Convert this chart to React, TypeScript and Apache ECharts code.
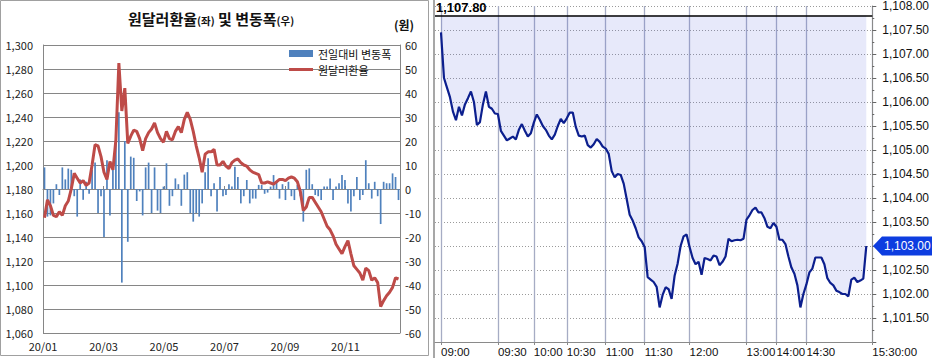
import React, { useEffect, useRef } from 'react';
import * as echarts from 'echarts';

// ---------- Left chart data (2020, every ~3 calendar days) ----------
const monthLabels = ['20/01', '20/03', '20/05', '20/07', '20/09', '20/11'];
const usdKrw = [
  1156, 1171, 1166, 1158, 1157, 1161, 1158, 1166, 1170, 1180,
  1193, 1189, 1185, 1187, 1183, 1185, 1200, 1217, 1216, 1207,
  1194, 1188, 1203, 1196, 1221, 1285, 1245, 1264, 1218, 1224,
  1229, 1228, 1222, 1212, 1222, 1227, 1230, 1235, 1227, 1222,
  1219, 1228, 1222, 1221, 1228, 1232, 1227, 1238, 1244, 1238,
  1228, 1216, 1206, 1194, 1209, 1211, 1211, 1213, 1200, 1200,
  1203, 1199, 1197, 1202, 1204, 1205, 1202, 1200, 1199, 1196,
  1194, 1193, 1192, 1185, 1185, 1186, 1185, 1184, 1186, 1188,
  1188, 1187, 1189, 1190, 1189, 1186, 1178, 1162, 1165, 1173,
  1173, 1169, 1165, 1161, 1155, 1149, 1146, 1141, 1134, 1130,
  1126, 1132, 1137, 1126, 1116, 1113, 1110, 1104, 1114, 1112,
  1104, 1106, 1102, 1082, 1087, 1091, 1094, 1098, 1106, 1105,
];
const dailyChange = [
  9, -11.5, -11, -6, 2, -2.5, 9, 4, 8.5, 8,
  -3, -11.5, 4, -4.5, 3, -2, 8, 11, -10, -3,
  -20, 12, -11, 11, 20, 32, -39, 20, -22, 13.5,
  13, -5, -1, -11, 9, 11, -10, 9, -9, -10,
  1, 10.7, -7, -3, 4.4, 2, -7, 6, 7, -10,
  -13.6, -10, -11.5, -6, 7, 12.8, -3, 2.4, -9.4, 5,
  -3, -2.5, 2, 1, 9.3, 5, -6, -3, 3.75, -6,
  -4, -4, 1.7, 1.7, -2, -1.5, 1, 5.8, 3, -4,
  2, -4.6, 3, -3, -4.6, 1.7, -3, -13.6, 8, 8.6,
  2, -2.5, -3, -4.6, 1, 1, 4.4, -4.6, 1, 2.4,
  5.8, 3.7, -6, -9.4, -3, 5, -4.6, -2.5, 12, 2.4,
  -4, 3, -3, -14.6, 3, 2.4, 2.4, 6.5, 5, -4.6,
];

// ---------- Right chart data (intraday) ----------
const intradayTimes = ['09:00', '09:30', '10:00', '10:30', '11:00', '11:30', '12:00', '13:00', '14:00', '14:30', '15:30:00'];
const intradaySlots = [2, 21, 33, 44, 57, 70, 85, 104, 114, 124, 146];
const intradayHigh = 1107.8;
const intradayPrice = [
  1107.45, 1106.5, 1106.3, 1106.1, 1105.8, 1105.62, 1105.9, 1105.72, 1105.95, 1106.08,
  1106.22, 1106.0, 1105.52, 1105.58, 1105.95, 1106.22, 1105.9, 1105.86, 1105.76, 1105.75,
  1105.4, 1105.3, 1105.2, 1105.24, 1105.28, 1105.22, 1105.42, 1105.54, 1105.4, 1105.28,
  1105.35, 1105.57, 1105.74, 1105.63, 1105.5, 1105.42, 1105.3, 1105.22, 1105.32, 1105.5,
  1105.65, 1105.56, 1105.66, 1105.78, 1105.78, 1105.48, 1105.3, 1105.28,
  1105.3, 1105.1, 1105.05, 1105.12, 1105.23, 1105.17, 1105.07, 1105.03, 1104.92, 1104.56,
  1104.43, 1104.5, 1104.48, 1104.3, 1103.98, 1103.65, 1103.53, 1103.37, 1103.18, 1103.1,
  1102.98, 1102.35, 1102.3, 1102.25, 1102.15, 1101.72, 1101.98, 1102.14, 1102.1, 1101.9,
  1102.38, 1102.63, 1103.0, 1103.2, 1103.24, 1102.98, 1102.75, 1102.62, 1102.67, 1102.4,
  1102.75, 1102.73, 1102.7, 1102.8, 1102.78, 1102.6, 1102.67, 1102.78,
  1103.15, 1103.1, 1103.12, 1103.13, 1103.12, 1103.15, 1103.55, 1103.64, 1103.75, 1103.8,
  1103.7, 1103.7, 1103.58, 1103.4, 1103.37, 1103.48, 1103.4, 1103.13, 1103.13, 1103.04,
  1102.78, 1102.55, 1102.42, 1102.18, 1101.72, 1102.0, 1102.2, 1102.45, 1102.53, 1102.76,
  1102.76, 1102.76, 1102.62, 1102.33, 1102.23, 1102.18, 1102.07, 1102.04, 1102.0, 1102.0,
  1101.95, 1102.3, 1102.34, 1102.25, 1102.28, 1102.32, 1103.0,
];

const KR = "'Noto Sans CJK KR', 'Noto Sans', sans-serif";
const LAT = "'Liberation Sans', Arial, sans-serif";
const fmtInt = (v: number) => v.toLocaleString('en-US');
const fmt2 = (v: number) =>
  v.toLocaleString('en-US', { minimumFractionDigits: 2, maximumFractionDigits: 2 });

const DAYS_PER_POINT = 3;
const MONTH2_DAYS = 61;
const SLOT_COUNT = 147;
const PRICE_START_SLOT = 2;
const LINE_LEGEND_ICON = 'path://M0,0M0,2L24,2L24,5L0,5ZM24,7';

export default function App() {
  const ref = useRef<HTMLDivElement>(null);

  useEffect(() => {
    const chart = echarts.init(ref.current!, null, { renderer: 'svg' });

    const dayOf = (i: number) => DAYS_PER_POINT * i + DAYS_PER_POINT / 2;
    const rateData = usdKrw.map((v, i) => [dayOf(i), v]);
    const changeData = dailyChange.map((v, i) => [dayOf(i), v]);

    const slotLabel = new Map<number, string>(intradaySlots.map((s, i) => [s, intradayTimes[i]]));
    const cats = Array.from({ length: SLOT_COUNT }, (_, k) => String(k));
    const priceData = cats.map((_, k) => {
      const j = k - PRICE_START_SLOT;
      return j >= 0 && j < intradayPrice.length ? intradayPrice[j] : null;
    });
    const isSlot = (index: number) => slotLabel.has(index);

    const gridLine = '#868686';

    const option: any = {
      animation: false,
      textStyle: { fontFamily: KR },
      title: [
        {
          text: '{a|원달러환율}{b|(좌)}{a| 및 변동폭}{b|(우)}',
          left: 128,
          top: 11,
          padding: 0,
          textStyle: {
            rich: {
              a: { fontSize: 15, fontWeight: 'bold', color: '#111', fontFamily: KR },
              b: { fontSize: 10.5, fontWeight: 'bold', color: '#111', fontFamily: KR, padding: [3, 0, 0, 0] },
            },
          },
        },
        {
          text: '(원)',
          left: 394,
          top: 18,
          padding: 0,
          textStyle: { fontSize: 12, fontWeight: 'bold', color: '#111', fontFamily: KR },
        },
      ],
      legend: {
        orient: 'vertical',
        left: 289,
        top: 47,
        padding: 0,
        itemWidth: 24,
        itemHeight: 7,
        itemGap: 3,
        textStyle: { fontSize: 11, lineHeight: 13, color: '#111', fontFamily: KR },
        data: [
          { name: '전일대비 변동폭', icon: 'rect' },
          { name: '원달러환율', icon: LINE_LEGEND_ICON },
        ],
      },
      grid: [
        { left: 43, top: 45, width: 357, height: 288 },
        { left: 435, top: 2, width: 438, height: 341 },
      ],
      xAxis: [
        {
          type: 'value',
          gridIndex: 0,
          min: 0,
          max: 360,
          interval: MONTH2_DAYS,
          axisLine: { show: true, lineStyle: { color: gridLine } },
          axisTick: { show: true, inside: true, length: 3, lineStyle: { color: gridLine } },
          splitLine: { show: false },
          axisLabel: {
            margin: 7,
            fontSize: 11,
            color: '#222',
            fontFamily: KR,
            formatter: (v: number) => {
              const idx = v / MONTH2_DAYS;
              return Number.isInteger(idx) && idx < monthLabels.length ? monthLabels[idx] : '';
            },
          },
        },
        {
          type: 'category',
          gridIndex: 1,
          data: cats,
          boundaryGap: false,
          axisLine: { show: true, lineStyle: { color: '#8a8a8a' } },
          axisTick: { show: true, interval: isSlot, length: 3, lineStyle: { color: '#8a8a8a' } },
          splitLine: { show: true, interval: isSlot, lineStyle: { color: '#a6acc4', width: 1.3 } },
          axisLabel: {
            interval: isSlot,
            align: 'left',
            margin: 4,
            fontSize: 11.5,
            color: '#111',
            fontFamily: LAT,
            formatter: (_v: string, index: number) => slotLabel.get(index) ?? '',
          },
        },
      ],
      yAxis: [
        {
          type: 'value',
          gridIndex: 0,
          position: 'left',
          min: 1060,
          max: 1300,
          interval: 20,
          axisLine: { show: true, lineStyle: { color: gridLine } },
          axisTick: { show: false },
          splitLine: { show: true, lineStyle: { color: gridLine, width: 1 } },
          axisLabel: { margin: 10, fontSize: 11, color: '#222', fontFamily: KR, formatter: fmtInt },
        },
        {
          type: 'value',
          gridIndex: 0,
          position: 'right',
          min: -60,
          max: 60,
          interval: 10,
          axisLine: { show: true, lineStyle: { color: gridLine } },
          axisTick: { show: false },
          splitLine: { show: false },
          axisLabel: { margin: 5, fontSize: 11, color: '#222', fontFamily: KR },
        },
        {
          type: 'value',
          gridIndex: 1,
          position: 'right',
          min: 1101,
          max: 1108,
          interval: 0.5,
          axisLine: { show: true, lineStyle: { color: '#8a8a8a' } },
          axisTick: { show: true, length: 4, lineStyle: { color: '#666' } },
          minorTick: { show: true, splitNumber: 2, length: 2, lineStyle: { color: '#666' } },
          splitLine: { show: true, lineStyle: { color: '#9a9a9a', type: [1, 2], width: 1 } },
          axisLabel: {
            margin: 10,
            fontSize: 12,
            color: '#111',
            fontFamily: LAT,
            showMinLabel: false,
            formatter: (v: number) => (Math.abs(v * 2 - Math.round(v * 2)) < 1e-6 ? fmt2(v) : ''),
          },
        },
      ],
      series: [
        {
          name: '전일대비 변동폭',
          type: 'bar',
          xAxisIndex: 0,
          yAxisIndex: 1,
          data: changeData,
          barWidth: 1.7,
          itemStyle: { color: '#4f81bd' },
          z: 2,
        },
        {
          name: '원달러환율',
          type: 'line',
          xAxisIndex: 0,
          yAxisIndex: 0,
          data: rateData,
          symbol: 'none',
          lineStyle: { color: '#be4b48', width: 3 },
          itemStyle: { color: '#be4b48' },
          z: 3,
        },
        {
          name: '현재가',
          type: 'line',
          xAxisIndex: 1,
          yAxisIndex: 2,
          data: priceData,
          symbol: 'none',
          lineStyle: { color: '#0c1f8e', width: 2.2 },
          areaStyle: { color: 'rgba(85,100,220,0.2)', origin: intradayHigh },
          markLine: {
            silent: true,
            symbol: 'none',
            data: [{ yAxis: intradayHigh }],
            lineStyle: { color: '#000', width: 1.5, type: 'solid' },
            label: {
              position: 'insideStartTop',
              distance: [1, 2],
              formatter: () => fmt2(intradayHigh),
              color: '#000',
              fontSize: 13,
              fontWeight: 'bold',
              fontFamily: LAT,
            },
          },
          z: 3,
        },
      ],
      graphic: {
        elements: [
          {
            type: 'rect',
            id: 'leftBorder',
            shape: { x: 0.5, y: 0.5, width: 428, height: 355 },
            style: { fill: 'none', stroke: '#a0a0a0', lineWidth: 1 },
            z: -1,
            silent: true,
          },
          {
            type: 'line',
            id: 'rightBorder',
            shape: { x1: 434, y1: 0, x2: 434, y2: 358 },
            style: { stroke: '#8a8a8a', lineWidth: 1.5 },
            silent: true,
          },
          {
            type: 'group',
            id: 'priceTag',
            x: 873,
            y: -100,
            z: 100,
            children: [
              {
                type: 'polygon',
                shape: { points: [[0, 0], [9, -9.5], [59, -9.5], [59, 9.5], [9, 9.5]] },
                style: { fill: '#0d3de0' },
                z: 100,
              },
              {
                type: 'text',
                x: 11,
                y: 0,
                z: 101,
                style: {
                  text: fmt2(intradayPrice[intradayPrice.length - 1]),
                  fill: '#fff',
                  fontSize: 12,
                  fontFamily: LAT,
                  verticalAlign: 'middle',
                  align: 'left',
                },
              },
            ],
          },
        ],
      },
    };

    chart.setOption(option);
    const lastY = chart.convertToPixel({ yAxisIndex: 2 }, intradayPrice[intradayPrice.length - 1]) as number;
    chart.setOption({ graphic: { elements: [{ id: 'priceTag', y: lastY }] } });

    return () => chart.dispose();
  }, []);

  return (
    <div
      ref={ref}
      style={{ position: 'absolute', left: 0, top: 0, width: 932, height: 358, background: '#fff' }}
    />
  );
}
